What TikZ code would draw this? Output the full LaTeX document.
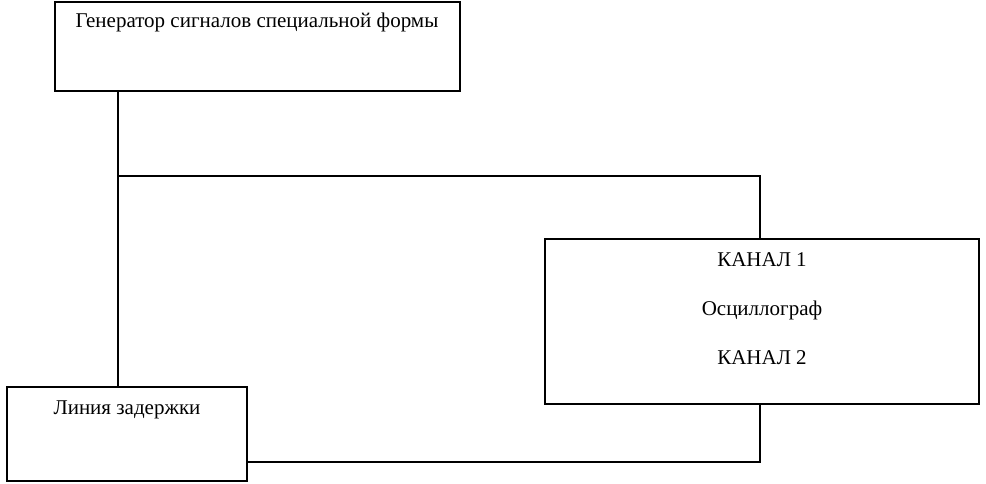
\documentclass[tikz,border=0pt]{standalone}
\usepackage{fontspec}
\setmainfont{Liberation Serif}
\begin{document}
\begin{tikzpicture}[x=0.5pt, y=-0.5pt, line width=1pt,
    blok/.style={draw, rectangle, inner sep=0pt},
    txt/.style={inner sep=0pt, font=\fontsize{10.5}{12}\selectfont}]
            \useasboundingbox (0,0) rectangle (986,483);

            \node (gen) at (257.5,46.5) [blok, minimum width=202.5pt, minimum height=44.5pt] {};
            \node (osc) at (762,321.5) [blok, minimum width=217pt, minimum height=82.5pt] {};
            \node (zad) at (127,434) [blok, minimum width=120pt, minimum height=47pt] {};

            \node (tgen) at (257,22) [txt] {Генератор сигналов специальной формы};
            \node (tk1) at (762,260) [txt] {КАНАЛ 1};
            \node (tosc) at (762,310) [txt] {Осциллограф};
            \node (tk2) at (762,358) [txt] {КАНАЛ 2};
            \node (tzad) at (127,410) [txt] {Линия задержки};

            \coordinate (j) at (118,176);
            \coordinate (k) at (760,176);
            \coordinate (m) at (760,462);

            \draw (gen.south -| j) -- (zad.north -| j);
            \draw (j) -- (k) -- (osc.north -| k);
            \draw (zad.east |- m) -- (m) -- (osc.south -| m);
        \end{tikzpicture}
\end{document}
